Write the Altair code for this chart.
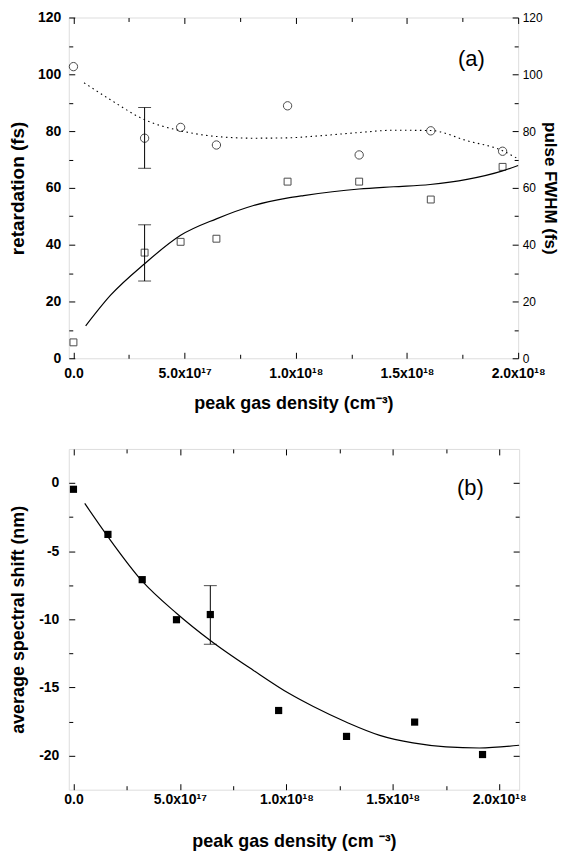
import altair as alt
import pandas as pd

# ---------------- data (x in units of 1e17 cm^-3) ----------------
dens_a = [0.0, 3.2, 4.82, 6.43, 9.63, 12.85, 16.07, 19.3]
fwhm_a = [102.7, 77.5, 81.3, 75.1, 88.9, 71.6, 80.1, 72.9]
retard_a = [5.6, 37.2, 41.0, 42.1, 62.2, 62.2, 55.9, 67.4]

fit_fwhm_x = [0.48, 1.67, 3.2, 4.82, 6.43, 8.1, 9.6, 11.0, 12.85, 14.4, 16.07, 17.7, 19.3, 20.0]
fit_fwhm_y = [97.0, 91.0, 84.0, 80.1, 78.1, 77.5, 77.6, 78.3, 79.5, 80.3, 80.2, 76.6, 73.1, 70.2]

fit_ret_x = [0.55, 1.67, 3.2, 4.82, 6.43, 8.1, 9.6, 10.35, 12.85, 14.4, 16.04, 17.7, 19.3, 20.0]
fit_ret_y = [11.4, 22.2, 33.3, 43.3, 49.1, 53.8, 56.4, 57.3, 59.6, 60.4, 61.2, 63.0, 66.0, 67.9]

err_a_x = [3.2, 3.2]
err_a_lo = [66.9, 27.2]
err_a_hi = [88.3, 47.0]

dens_b = [0.0, 1.62, 3.23, 4.84, 6.43, 9.64, 12.83, 16.03, 19.22]
shift_b = [-0.46, -3.77, -7.09, -10.03, -9.65, -16.69, -18.59, -17.54, -19.92]

fit_shift_x = [0.53, 1.62, 3.23, 4.84, 6.43, 8.46, 10.14, 11.27, 12.83, 14.39, 15.95, 17.51, 19.07, 20.94]
fit_shift_y = [-1.5, -3.94, -7.2, -9.55, -11.55, -13.75, -15.45, -16.4, -17.55, -18.51, -19.07, -19.36, -19.44, -19.24]

err_b_x = [6.43]
err_b_lo = [-11.83]
err_b_hi = [-7.53]

x_major = [0, 5, 10, 15, 20]
x_minor = [2.5, 7.5, 12.5, 17.5]
x_labels = ["0.0", "5.0x10¹⁷", "1.0x10¹⁸", "1.5x10¹⁸", "2.0x10¹⁸"]
y_a_major = [0, 20, 40, 60, 80, 100, 120]
y_a_minor = [10, 30, 50, 70, 90, 110]
y_b_major = [-20, -15, -10, -5, 0]
y_b_minor = [-17.5, -12.5, -7.5, -2.5]

x_title_a = "peak gas density (cm⁻³)"
x_title_b = "peak gas density (cm ⁻³)"

FONT = "Liberation Sans"
W_A, H_A = 451, 342
W_B, H_B = 452, 342

# ---------------- helpers ----------------
x_label_expr = "".join(
    f"datum.value == {v} ? '{t}' : " for v, t in zip(x_major, x_labels)
) + "''"


def label_axis(orient, values, **kw):
    return alt.Axis(
        orient=orient, values=values, ticks=False, tickSize=0, domain=False,
        grid=False, labels=True, labelFlush=False, labelColor="black",
        titleColor="black", labelFont=FONT, titleFont=FONT, **kw,
    )


def tick_axis(orient, offset, values, size):
    # an axis of the opposite side, moved onto this edge so ticks point inward
    return alt.Axis(
        orient=orient, offset=offset, values=values, ticks=True,
        tickSize=size, tickColor="black", tickWidth=1, labels=False,
        domain=False, grid=False, title=None,
    )


def carrier(df, xs, ys, xaxis, yaxis):
    return alt.Chart(df).mark_line(strokeOpacity=0, opacity=0).encode(
        x=alt.X("x:Q", scale=xs, axis=xaxis),
        y=alt.Y("y:Q", scale=ys, axis=yaxis),
    )


MAJ, MIN = 6, 4

# ---------------- panel (a) ----------------
df_a = pd.DataFrame({"x": dens_a, "fwhm": fwhm_a, "ret": retard_a})
df_fit_fwhm = pd.DataFrame({"x": fit_fwhm_x, "y": fit_fwhm_y})
df_fit_ret = pd.DataFrame({"x": fit_ret_x, "y": fit_ret_y})
df_err_a = pd.DataFrame({"x": err_a_x, "lo": err_a_lo, "hi": err_a_hi})
df_caps_a = pd.DataFrame({"x": err_a_x + err_a_x, "y": err_a_lo + err_a_hi})

xs_a = alt.Scale(domain=[-0.21, 20.0], nice=False, zero=False)
ys_a = alt.Scale(domain=[0, 120], nice=False, zero=False)

squares_a = alt.Chart(df_a).mark_square(
    filled=False, size=48, color="black", strokeWidth=1
).encode(
    x=alt.X("x:Q", scale=xs_a, axis=label_axis(
        "bottom", x_major, labelExpr=x_label_expr, labelFontSize=14,
        labelFontWeight="bold", labelPadding=8, title=x_title_a,
        titleFontSize=18, titleFontWeight="bold", titlePadding=14)),
    y=alt.Y("ret:Q", scale=ys_a, axis=label_axis(
        "left", y_a_major, labelFontSize=14, labelFontWeight="bold",
        labelPadding=8, title="retardation (fs)", titleFontSize=19,
        titleFontWeight="bold", titlePadding=10)),
)

circles_a = alt.Chart(df_a).mark_point(
    shape="circle", filled=False, size=70, color="black", strokeWidth=1
).encode(
    x=alt.X("x:Q", scale=xs_a, axis=tick_axis("top", -H_A, x_major, MAJ)),
    y=alt.Y("fwhm:Q", scale=ys_a, axis=label_axis(
        "right", y_a_major, labelFontSize=12, labelFontWeight="normal",
        labelPadding=4, title="pulse FWHM (fs)", titleFontSize=17,
        titleFontWeight="bold", titlePadding=-2)),
)

fit_fwhm_line = alt.Chart(df_fit_fwhm).mark_line(
    color="black", strokeWidth=1.1, strokeDash=[1.5, 3.5], interpolate="monotone"
).encode(
    x=alt.X("x:Q", scale=xs_a, axis=tick_axis("bottom", -H_A, x_major, MAJ)),
    y=alt.Y("y:Q", scale=ys_a, axis=tick_axis("right", -W_A, y_a_major, MAJ)),
)

fit_ret_line = alt.Chart(df_fit_ret).mark_line(
    color="black", strokeWidth=1.2, interpolate="monotone"
).encode(
    x=alt.X("x:Q", scale=xs_a, axis=tick_axis("top", -H_A, x_minor, MIN)),
    y=alt.Y("y:Q", scale=ys_a, axis=tick_axis("left", -W_A, y_a_major, MAJ)),
)

carrier_a1 = carrier(df_fit_ret, xs_a, ys_a,
                     tick_axis("bottom", -H_A, x_minor, MIN),
                     tick_axis("right", -W_A, y_a_minor, MIN))
carrier_a2 = carrier(df_fit_ret, xs_a, ys_a, None,
                     tick_axis("left", -W_A, y_a_minor, MIN))

err_a = alt.Chart(df_err_a).mark_rule(color="black", strokeWidth=1).encode(
    x=alt.X("x:Q", scale=xs_a, axis=None),
    y=alt.Y("lo:Q", scale=ys_a, axis=None),
    y2="hi:Q",
)
caps_a = alt.Chart(df_caps_a).mark_tick(
    orient="horizontal", size=13, thickness=1, color="black"
).encode(
    x=alt.X("x:Q", scale=xs_a, axis=None),
    y=alt.Y("y:Q", scale=ys_a, axis=None),
)

label_a = alt.Chart(pd.DataFrame({"x": [17.9], "y": [105.5], "t": ["(a)"]})).mark_text(
    fontSize=22, font=FONT, color="black", align="center", baseline="middle"
).encode(
    x=alt.X("x:Q", scale=xs_a, axis=None),
    y=alt.Y("y:Q", scale=ys_a, axis=None),
    text="t:N",
)

panel_a = alt.layer(
    squares_a, circles_a, fit_fwhm_line, fit_ret_line, carrier_a1, carrier_a2,
    err_a, caps_a, label_a
).properties(width=W_A, height=H_A)

# ---------------- panel (b) ----------------
df_b = pd.DataFrame({"x": dens_b, "y": shift_b})
df_fit_b = pd.DataFrame({"x": fit_shift_x, "y": fit_shift_y})
df_err_b = pd.DataFrame({"x": err_b_x, "lo": err_b_lo, "hi": err_b_hi})
df_caps_b = pd.DataFrame({"x": err_b_x + err_b_x, "y": err_b_lo + err_b_hi})

xs_b = alt.Scale(domain=[-0.22, 20.94], nice=False, zero=False)
ys_b = alt.Scale(domain=[-22.5, 2.5], nice=False, zero=False)

points_b = alt.Chart(df_b).mark_square(
    filled=True, size=52, color="black", opacity=1
).encode(
    x=alt.X("x:Q", scale=xs_b, axis=label_axis(
        "bottom", x_major, labelExpr=x_label_expr, labelFontSize=14,
        labelFontWeight="bold", labelPadding=3, title=x_title_b,
        titleFontSize=18, titleFontWeight="bold", titlePadding=26)),
    y=alt.Y("y:Q", scale=ys_b, axis=label_axis(
        "left", y_b_major, labelExpr="'' + datum.value", labelFontSize=14,
        labelFontWeight="bold", labelPadding=10,
        title="average spectral shift (nm)", titleFontSize=18,
        titleFontWeight="bold", titlePadding=11)),
)

fit_b = alt.Chart(df_fit_b).mark_line(
    color="black", strokeWidth=1.2, interpolate="monotone"
).encode(
    x=alt.X("x:Q", scale=xs_b, axis=tick_axis("top", -H_B, x_major, MAJ)),
    y=alt.Y("y:Q", scale=ys_b, axis=tick_axis("right", -W_B, y_b_major, MAJ)),
)

carrier_b1 = carrier(df_fit_b, xs_b, ys_b,
                     tick_axis("bottom", -H_B, x_major, MAJ),
                     tick_axis("left", -W_B, y_b_major, MAJ))
carrier_b2 = carrier(df_fit_b, xs_b, ys_b,
                     tick_axis("top", -H_B, x_minor, MIN),
                     tick_axis("right", -W_B, y_b_minor, MIN))
carrier_b3 = carrier(df_fit_b, xs_b, ys_b,
                     tick_axis("bottom", -H_B, x_minor, MIN),
                     tick_axis("left", -W_B, y_b_minor, MIN))

err_b = alt.Chart(df_err_b).mark_rule(color="black", strokeWidth=1).encode(
    x=alt.X("x:Q", scale=xs_b, axis=None),
    y=alt.Y("lo:Q", scale=ys_b, axis=None),
    y2="hi:Q",
)
caps_b = alt.Chart(df_caps_b).mark_tick(
    orient="horizontal", size=13, thickness=1, color="black"
).encode(
    x=alt.X("x:Q", scale=xs_b, axis=None),
    y=alt.Y("y:Q", scale=ys_b, axis=None),
)

label_b = alt.Chart(pd.DataFrame({"x": [18.65], "y": [-0.36], "t": ["(b)"]})).mark_text(
    fontSize=22, font=FONT, color="black", align="center", baseline="middle"
).encode(
    x=alt.X("x:Q", scale=xs_b, axis=None),
    y=alt.Y("y:Q", scale=ys_b, axis=None),
    text="t:N",
)

panel_b = alt.layer(
    points_b, fit_b, carrier_b1, carrier_b2, carrier_b3, err_b, caps_b, label_b
).properties(width=W_B, height=H_B)

chart = alt.vconcat(panel_a, panel_b, spacing=35).properties(
    padding=0
).configure_view(
    stroke="black", strokeWidth=1.2
).configure(
    font=FONT
)

chart.save("out.html", embed_options={"renderer": "svg", "actions": False})
